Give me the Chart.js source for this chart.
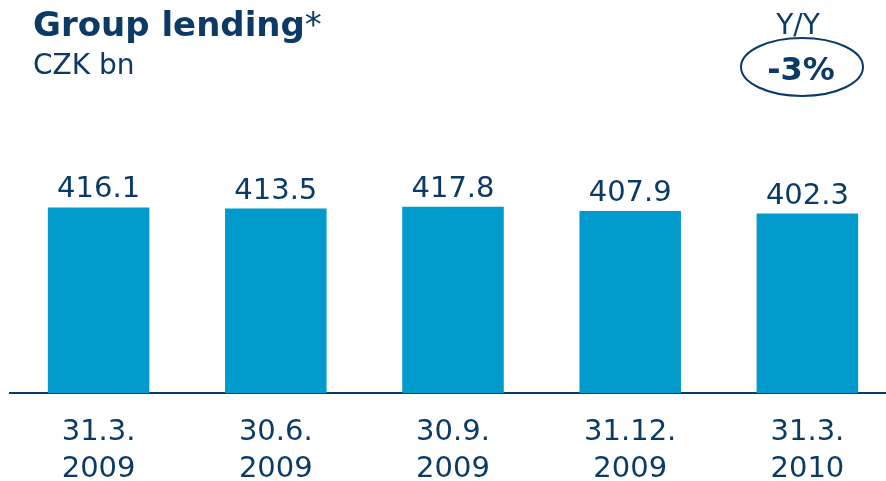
<!DOCTYPE html>
<html>
<head>
<meta charset="utf-8">
<script src="https://cdn.jsdelivr.net/npm/chart.js@4/dist/chart.umd.min.js"></script>
<style>
  html, body { margin: 0; padding: 0; background: #ffffff; overflow: hidden; }
  #wrap { position: relative; width: 896px; height: 481px; }
</style>
</head>
<body>
<div id="wrap"><canvas id="c" width="896" height="481"></canvas></div>
<script>
// Group lending, CZK bn, quarter-end balances
const categories = [['31.3.', '2009'], ['30.6.', '2009'], ['30.9.', '2009'], ['31.12.', '2009'], ['31.3.', '2010']];
const lending = [416.1, 413.5, 417.8, 407.9, 402.3];
const valueLabels = ['416.1', '413.5', '417.8', '407.9', '402.3'];
const yoyLabel = '-3%';

const NAVY = '#0b3a66';
const BAR = '#009acd';
const FONT = '"DejaVu Sans", Verdana, sans-serif';

// Value labels above each bar
const barValues = {
  id: 'barValues',
  afterDatasetsDraw(chart) {
    const ctx = chart.ctx;
    const meta = chart.getDatasetMeta(0);
    ctx.save();
    ctx.fillStyle = NAVY;
    ctx.font = '29px ' + FONT;
    ctx.textAlign = 'center';
    ctx.textBaseline = 'alphabetic';
    meta.data.forEach((bar, i) => {
      ctx.fillText(valueLabels[i], bar.x, bar.y - 10);
    });
    ctx.restore();
  }
};

// Heading, unit and the year-on-year badge
const header = {
  id: 'header',
  afterDraw(chart) {
    const ctx = chart.ctx;
    ctx.save();
    ctx.fillStyle = NAVY;
    ctx.textBaseline = 'alphabetic';
    ctx.textAlign = 'left';
    ctx.font = 'bold 34px ' + FONT;
    const title = 'Group lending';
    ctx.fillText(title, 33, 36);
    const w = ctx.measureText(title).width;
    ctx.font = '34px ' + FONT;
    ctx.fillText('*', 33 + w, 36);

    ctx.font = '28px ' + FONT;
    ctx.fillText('CZK bn', 33, 74);

    ctx.textAlign = 'center';
    ctx.font = '28px ' + FONT;
    ctx.fillText('Y/Y', 798, 34);

    ctx.beginPath();
    ctx.ellipse(802, 67, 61, 29, 0, 0, Math.PI * 2);
    ctx.strokeStyle = NAVY;
    ctx.lineWidth = 2;
    ctx.stroke();

    ctx.font = 'bold 32px ' + FONT;
    ctx.fillText(yoyLabel, 801, 80);
    ctx.restore();
  }
};

new Chart(document.getElementById('c'), {
  type: 'bar',
  data: {
    labels: categories,
    datasets: [{
      data: lending,
      backgroundColor: BAR,
      borderWidth: 0,
      categoryPercentage: 1.0,
      barPercentage: 0.573
    }]
  },
  options: {
    responsive: false,
    animation: false,
    layout: { padding: { left: 10, right: 0, top: 170, bottom: 0 } },
    plugins: {
      legend: { display: false },
      tooltip: { enabled: false },
      title: { display: false }
    },
    scales: {
      x: {
        grid: { display: false, drawTicks: false },
        border: { display: true, color: NAVY, width: 2 },
        ticks: {
          color: NAVY,
          font: { family: FONT, size: 29, lineHeight: 1.28 },
          padding: 21,
          maxRotation: 0,
          autoSkip: false
        },
        afterFit(scale) { scale.height = 88; }
      },
      y: {
        display: false,
        min: 0,
        max: 500
      }
    }
  },
  plugins: [barValues, header]
});
</script>
</body>
</html>
